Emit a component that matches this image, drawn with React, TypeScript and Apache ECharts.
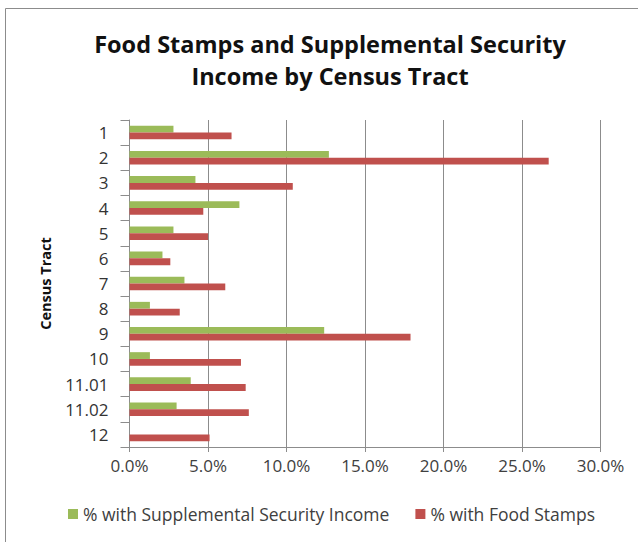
import React, { useEffect, useRef } from "react";
import * as echarts from "echarts";

const categories = ["1", "2", "3", "4", "5", "6", "7", "8", "9", "10", "11.01", "11.02", "12"];
const ssiValues = [2.8, 12.7, 4.2, 7.0, 2.8, 2.1, 3.5, 1.3, 12.4, 1.3, 3.9, 3.0, 0];
const foodStampValues = [6.5, 26.7, 10.4, 4.7, 5.0, 2.6, 6.1, 3.2, 17.9, 7.1, 7.4, 7.6, 5.1];
const xTicks = { min: 0, max: 30, interval: 5 };
const seriesNames = ["% with Supplemental Security Income", "% with Food Stamps"];
const FONT = "'Open Sans', sans-serif";

export default function App() {
  const ref = useRef<HTMLDivElement>(null);
  useEffect(() => {
    if (!ref.current) return;
    const chart = echarts.init(ref.current, null, { renderer: "svg" });
    chart.setOption({
      animation: false,
      backgroundColor: "#ffffff",
      title: {
        text: "Food Stamps and Supplemental Security\nIncome by Census Tract",
        left: 325,
        textAlign: "center",
        top: 23,
        textStyle: { fontFamily: FONT, fontSize: 23.5, fontWeight: "bold", color: "#111", lineHeight: 32 },
      },
      graphic: [
        {
          type: "rect",
          shape: { x: 5.5, y: 8.5, width: 640, height: 540 },
          style: { fill: "none", stroke: "#8c8c8c", lineWidth: 1 },
          silent: true,
        },
      ],
      legend: {
        bottom: 14,
        left: 63,
        itemWidth: 10,
        itemHeight: 10,
        itemGap: 26,
        icon: "rect",
        textStyle: { fontFamily: FONT, fontSize: 17.5, color: "#404040" },
        data: seriesNames,
      },
      grid: { left: 129.5, right: 37.5, top: 120, bottom: 95, containLabel: false },
      xAxis: {
        type: "value",
        min: xTicks.min,
        max: xTicks.max,
        interval: xTicks.interval,
        axisLine: { show: true, lineStyle: { color: "#8c8c8c" } },
        axisTick: { show: true, length: 5, lineStyle: { color: "#8c8c8c" } },
        splitLine: { show: true, lineStyle: { color: "#8c8c8c" } },
        axisLabel: {
          formatter: (v: number) => v.toFixed(1) + "%",
          fontFamily: FONT,
          fontSize: 17,
          color: "#404040",
          margin: 10,
        },
      },
      yAxis: {
        type: "category",
        data: categories,
        inverse: true,
        name: "Census Tract",
        nameLocation: "middle",
        nameGap: 77,
        nameRotate: 90,
        nameTextStyle: { fontFamily: FONT, fontSize: 14.5, fontWeight: "bold", color: "#111" },
        axisLine: { show: true, lineStyle: { color: "#8c8c8c" } },
        axisTick: { show: true, length: 9, lineStyle: { color: "#8c8c8c" } },
        axisLabel: { fontFamily: FONT, fontSize: 17, color: "#333", margin: 21 },
        splitLine: { show: false },
      },
      series: [
        {
          name: seriesNames[0],
          type: "bar",
          data: ssiValues,
          itemStyle: { color: "#9BBB59" },
          barGap: "0%",
          barCategoryGap: "46%",
        },
        {
          name: seriesNames[1],
          type: "bar",
          data: foodStampValues,
          itemStyle: { color: "#C0504D" },
          barGap: "0%",
          barCategoryGap: "46%",
        },
      ],
    });
    return () => chart.dispose();
  }, []);
  return (
    <div
      ref={ref}
      style={{ position: "absolute", left: 0, top: 0, width: 638, height: 542 }}
    />
  );
}
